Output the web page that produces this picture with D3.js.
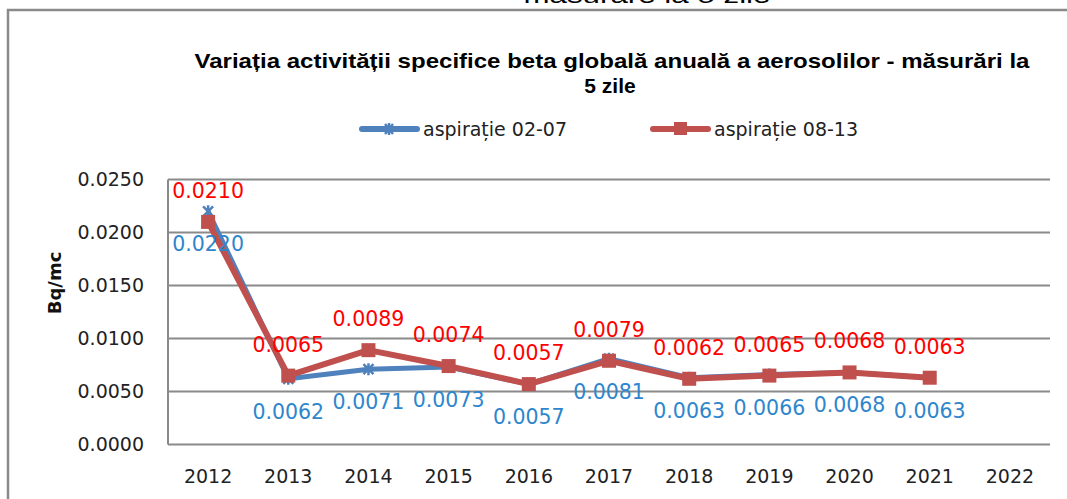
<!DOCTYPE html>
<html>
<head>
<meta charset="utf-8">
<script src="https://cdn.jsdelivr.net/npm/d3@7"></script>
<style>
  body { margin: 0; background: #fff; }
  svg { display: block; }
</style>
</head>
<body>
<div id="chart"></div>
<script>
const years = ['2012', '2013', '2014', '2015', '2016', '2017', '2018', '2019', '2020', '2021', '2022'];
const seriesNames = ['aspirație 02-07', 'aspirație 08-13'];
const aspiratie0207 = [0.0220, 0.0062, 0.0071, 0.0073, 0.0057, 0.0081, 0.0063, 0.0066, 0.0068, 0.0063, null];
const aspiratie0813 = [0.0210, 0.0065, 0.0089, 0.0074, 0.0057, 0.0079, 0.0062, 0.0065, 0.0068, 0.0063, null];
const yTicks = [0, 0.005, 0.01, 0.015, 0.02, 0.025];
const titleLines = ['Variația activității specifice beta globală anuală a aerosolilor - măsurări la', '5 zile'];

const width = 1067, height = 499;
const plot = { left: 168, right: 1050, top: 179.5, bottom: 444.5 };

const svg = d3.select('#chart')
    .append('svg')
    .attr('width', width)
    .attr('height', height);

// leftover title from chart above, cut off at the top
svg.append('text')
    .attr('x', 647).attr('y', 3)
    .attr('text-anchor', 'middle')
    .attr('font-family', 'Liberation Sans, Arial, sans-serif')
    .attr('font-size', 22)
    .attr('textLength', 247)
    .attr('lengthAdjust', 'spacingAndGlyphs')
    .text('măsurare la 5 zile');

// chart frame
svg.append('path')
    .attr('d', `M8,${height + 5}V10H${width + 5}`)
    .attr('fill', 'none')
    .attr('stroke', '#8a8a8a')
    .attr('stroke-width', 2.5);

// title
svg.append('text')
    .attr('x', 612).attr('y', 68)
    .attr('text-anchor', 'middle')
    .attr('font-family', 'Liberation Sans, Arial, sans-serif')
    .attr('font-weight', 'bold')
    .attr('font-size', 21)
    .attr('textLength', 835)
    .attr('lengthAdjust', 'spacingAndGlyphs')
    .text(titleLines[0]);
svg.append('text')
    .attr('x', 610).attr('y', 93)
    .attr('text-anchor', 'middle')
    .attr('font-family', 'Liberation Sans, Arial, sans-serif')
    .attr('font-weight', 'bold')
    .attr('font-size', 21)
    .text(titleLines[1]);

const x = d3.scaleBand()
    .domain(years)
    .range([plot.left, plot.right]);

const y = d3.scaleLinear()
    .domain([0, 0.025])
    .range([plot.bottom, plot.top]);

const cx = d => x(d) + x.bandwidth() / 2;

// gridlines
svg.append('g')
    .selectAll('line')
    .data(yTicks)
    .enter().append('line')
    .attr('x1', plot.left).attr('x2', plot.right)
    .attr('y1', d => y(d)).attr('y2', d => y(d))
    .attr('stroke', '#8a8a8a')
    .attr('stroke-width', 2);

// left axis line
svg.append('line')
    .attr('x1', plot.left).attr('x2', plot.left)
    .attr('y1', plot.top).attr('y2', plot.bottom)
    .attr('stroke', '#8a8a8a')
    .attr('stroke-width', 2);

// y axis
const yAxis = svg.append('g')
    .attr('transform', `translate(${plot.left - 21},0)`)
    .call(d3.axisLeft(y).tickValues(yTicks).tickFormat(d3.format('.4f')).tickSize(0));
yAxis.select('.domain').remove();
yAxis.selectAll('text')
    .attr('font-family', 'DejaVu Sans, sans-serif')
    .attr('font-size', 19)
    .attr('fill', '#222');

// x axis
const xAxis = svg.append('g')
    .attr('transform', `translate(0,${plot.bottom + 22})`)
    .call(d3.axisBottom(x).tickSize(0));
xAxis.select('.domain').remove();
xAxis.selectAll('text')
    .attr('font-family', 'DejaVu Sans, sans-serif')
    .attr('font-size', 19)
    .attr('fill', '#222');

// y axis title
svg.append('text')
    .attr('transform', 'translate(61,283) rotate(-90)')
    .attr('text-anchor', 'middle')
    .attr('font-family', 'DejaVu Sans, sans-serif')
    .attr('font-weight', 'bold')
    .attr('font-size', 18)
    .attr('fill', '#111')
    .text('Bq/mc');

const line = d3.line()
    .defined(d => d.v != null)
    .x(d => cx(d.year))
    .y(d => y(d.v));

const blueData = years.map((yr, i) => ({ year: yr, v: aspiratie0207[i] }));
const redData = years.map((yr, i) => ({ year: yr, v: aspiratie0813[i] }));

// blue series
svg.append('path')
    .datum(blueData)
    .attr('fill', 'none')
    .attr('stroke', '#4f81bd')
    .attr('stroke-width', 5)
    .attr('stroke-linejoin', 'round')
    .attr('d', line);

const starPath = 'M-5,-5L5,5M-5,5L5,-5M0,-6V6';
svg.append('g')
    .selectAll('path')
    .data(blueData.filter(d => d.v != null))
    .enter().append('path')
    .attr('transform', d => `translate(${cx(d.year)},${y(d.v)})`)
    .attr('d', starPath)
    .attr('stroke', '#4f81bd')
    .attr('stroke-width', 2.5);

// red series
svg.append('path')
    .datum(redData)
    .attr('fill', 'none')
    .attr('stroke', '#c0504d')
    .attr('stroke-width', 6)
    .attr('stroke-linejoin', 'round')
    .attr('d', line);

svg.append('g')
    .selectAll('rect')
    .data(redData.filter(d => d.v != null))
    .enter().append('rect')
    .attr('x', d => cx(d.year) - 7)
    .attr('y', d => y(d.v) - 7)
    .attr('width', 14).attr('height', 14)
    .attr('fill', '#c0504d');

// data labels
svg.append('g')
    .selectAll('text')
    .data(blueData.filter(d => d.v != null))
    .enter().append('text')
    .attr('x', d => cx(d.year))
    .attr('y', d => y(d.v) + 40)
    .attr('text-anchor', 'middle')
    .attr('font-family', 'DejaVu Sans, sans-serif')
    .attr('font-size', 20.5)
    .attr('fill', '#2e86cd')
    .text(d => d3.format('.4f')(d.v));

svg.append('g')
    .selectAll('text')
    .data(redData.filter(d => d.v != null))
    .enter().append('text')
    .attr('x', d => cx(d.year))
    .attr('y', d => y(d.v) - 24)
    .attr('text-anchor', 'middle')
    .attr('font-family', 'DejaVu Sans, sans-serif')
    .attr('font-size', 20.5)
    .attr('fill', '#ff0000')
    .text(d => d3.format('.4f')(d.v));

// legend
const legend = svg.append('g');
const legendItems = [
    { name: seriesNames[0], color: '#4f81bd', x0: 362, marker: 'star' },
    { name: seriesNames[1], color: '#c0504d', x0: 653, marker: 'square' }
];
legendItems.forEach(item => {
    const g = legend.append('g');
    g.append('line')
        .attr('x1', item.x0).attr('x2', item.x0 + 55)
        .attr('y1', 129).attr('y2', 129)
        .attr('stroke', item.color)
        .attr('stroke-width', 6)
        .attr('stroke-linecap', 'round');
    if (item.marker === 'square') {
        g.append('rect')
            .attr('x', item.x0 + 21).attr('y', 122)
            .attr('width', 13).attr('height', 13)
            .attr('fill', item.color);
    } else {
        g.append('path')
            .attr('transform', `translate(${item.x0 + 27},129)`)
            .attr('d', 'M-4,-5L4,5M-4,5L4,-5M0,-6V6')
            .attr('stroke', item.color)
            .attr('stroke-width', 2.5);
    }
    g.append('text')
        .attr('x', item.x0 + 61).attr('y', 136)
        .attr('font-family', 'DejaVu Sans, sans-serif')
        .attr('font-size', 19)
        .attr('fill', '#222')
        .text(item.name);
});
</script>
</body>
</html>
